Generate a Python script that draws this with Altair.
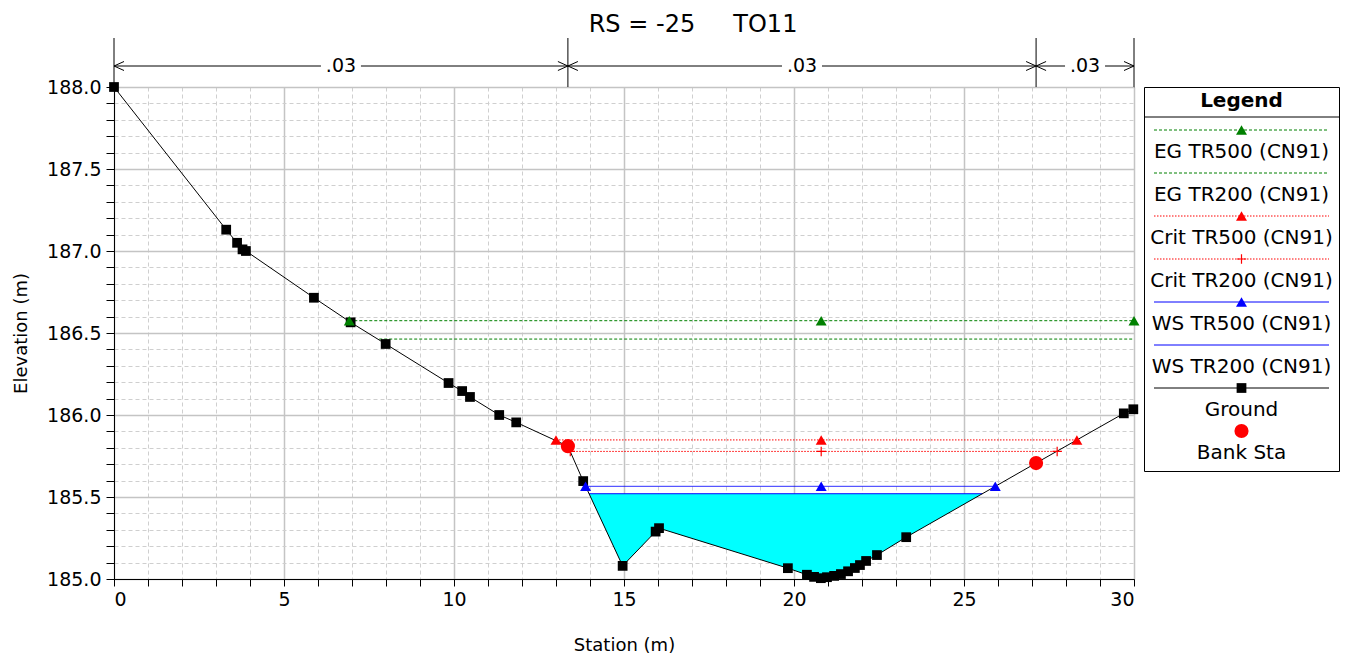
import altair as alt
import pandas as pd

FONT = "DejaVu Sans"

# ---------------- data ----------------
ground_station = [0.0, 3.30, 3.62, 3.78, 3.88, 5.88, 6.96, 7.99, 9.84, 10.24, 10.47,
                  11.33, 11.83, 13.35, 13.80, 14.96, 15.93, 16.03, 19.82, 20.38, 20.59,
                  20.79, 20.97, 21.18, 21.38, 21.59, 21.79, 21.94, 22.12, 22.44, 23.30,
                  27.12, 29.70, 29.98]
ground_elev = [188.0, 187.13, 187.05, 187.01, 187.0, 186.715, 186.565, 186.433, 186.195,
               186.146, 186.11, 186.0, 185.955, 185.81, 185.597, 185.08, 185.289, 185.31,
               185.066, 185.026, 185.013, 185.005, 185.011, 185.019, 185.03, 185.047,
               185.067, 185.085, 185.11, 185.146, 185.255, 185.707, 186.01, 186.035]

bank_station = [13.35, 27.12]
bank_elev = [185.81, 185.707]

# wetted section below WS TR200
fill_station = [13.97, 14.96, 15.93, 16.03, 19.82, 20.38, 20.59, 20.79, 20.97, 21.18,
                21.38, 21.59, 21.79, 21.94, 22.12, 22.44, 23.30, 25.54]
fill_bed = [185.52, 185.08, 185.289, 185.31, 185.066, 185.026, 185.013, 185.005, 185.011,
            185.019, 185.03, 185.047, 185.067, 185.085, 185.11, 185.146, 185.255, 185.52]
ws200_elev = 185.52

series_names = ["EG TR500 (CN91)", "EG TR200 (CN91)", "Crit TR500 (CN91)",
                "Crit TR200 (CN91)", "WS TR500 (CN91)", "WS TR200 (CN91)"]
series_elev = [186.575, 186.463, 185.848, 185.778, 185.565, 185.52]
series_left = [6.92, 7.80, 13.00, 13.42, 13.87, 13.97]
series_right = [30.0, 30.0, 28.32, 27.74, 25.92, 25.54]

marker_series = ["EG TR500 (CN91)"] * 3 + ["Crit TR500 (CN91)"] * 3 + \
                ["Crit TR200 (CN91)"] * 3 + ["WS TR500 (CN91)"] * 3
marker_station = [6.92, 20.8, 30.0, 13.00, 20.8, 28.32, 13.42, 20.8, 27.74, 13.87, 20.8, 25.92]

n_left = [0.0, 13.35, 27.12]
n_right = [13.35, 27.12, 30.0]
n_value = [".03", ".03", ".03"]

legend_labels = series_names + ["Ground", "Bank Sta"]

x_ticks = list(range(0, 31))
y_ticks = [round(185.0 + 0.1 * i, 1) for i in range(31)]

# ---------------- styles ----------------
series_color = ["#008000", "#008000", "#ff0000", "#ff0000", "#0000ff", "#0000ff"]
series_dash = [[3, 2], [3, 2], [1.5, 1.5], [1.5, 1.5], [1, 0], [1, 0]]
series_width = [1, 1, 1, 1, 1.5, 1.5]
color_scale = alt.Scale(domain=series_names + ["Ground", "Bank Sta"],
                        range=series_color + ["#000000", "#ff0000"])
dash_scale = alt.Scale(domain=series_names + ["Ground"], range=series_dash + [[1, 0]])
width_scale = alt.Scale(domain=series_names + ["Ground"], range=series_width + [1])

TRI = 120
SQ = 95
CIRC = 200
PLUS_PATH = "M-1,0L1,0M0,-1L0,1"

# ---------------- tables ----------------
ground_df = pd.DataFrame({"station": ground_station, "elev": ground_elev})
bank_df = pd.DataFrame({"station": bank_station, "elev": bank_elev})
fill_df = pd.DataFrame({"station": fill_station, "elev": fill_bed, "ws": ws200_elev})
rows = []
for name, e, l, r in zip(series_names, series_elev, series_left, series_right):
    rows.append({"series": name, "station": l, "elev": e})
    rows.append({"series": name, "station": r, "elev": e})
lines_df = pd.DataFrame(rows)
elev_of = dict(zip(series_names, series_elev))
markers_df = pd.DataFrame({"series": marker_series, "station": marker_station,
                           "elev": [elev_of[s] for s in marker_series]})
n_df = pd.DataFrame({"left": n_left, "right": n_right, "n": n_value})
bound_df = pd.DataFrame({"station": sorted(set(n_left + n_right))})

xs = alt.Scale(domain=[0, 30], nice=False, zero=False)
ys = alt.Scale(domain=[185, 188], nice=False, zero=False)

major_x = "datum.value % 5 === 0"
major_y = "abs(datum.value * 2 - round(datum.value * 2)) < 0.001"

x_axis = alt.Axis(values=x_ticks, title="Station (m)",
                  labelExpr=f"{major_x} ? datum.label : ''", labelOverlap=False,
                  tickSize=7, labelPadding=4, titlePadding=27,
                  gridColor={"condition": {"test": major_x, "value": "#c4c4c4"}, "value": "#cfcfcf"},
                  gridDash={"condition": {"test": major_x, "value": []}, "value": [4, 3]},
                  gridWidth={"condition": {"test": major_x, "value": 1.5}, "value": 1})
y_axis = alt.Axis(values=y_ticks, title="Elevation (m)",
                  labelExpr=f"{major_y} ? format(datum.value, '.1f') : ''", labelOverlap=False,
                  tickSize=8, labelPadding=5, titlePadding=16,
                  gridColor={"condition": {"test": major_y, "value": "#c4c4c4"}, "value": "#cfcfcf"},
                  gridDash={"condition": {"test": major_y, "value": []}, "value": [4, 3]},
                  gridWidth={"condition": {"test": major_y, "value": 1.5}, "value": 1})

X = alt.X("station:Q", scale=xs, axis=x_axis)
Y = alt.Y("elev:Q", scale=ys, axis=y_axis)

fill = alt.Chart(fill_df).mark_area(color="#00ffff", opacity=1, interpolate="linear").encode(
    x=X, y=Y, y2="ws:Q")

lines = alt.Chart(lines_df).mark_line().encode(
    x=X, y=Y, detail="series:N",
    color=alt.Color("series:N", scale=color_scale, legend=None),
    strokeDash=alt.StrokeDash("series:N", scale=dash_scale, legend=None),
    strokeWidth=alt.StrokeWidth("series:N", scale=width_scale, legend=None),
)

ground_line = alt.Chart(ground_df).mark_line(color="black", strokeWidth=1).encode(x=X, y=Y)
ground_pts = alt.Chart(ground_df).mark_point(shape="square", filled=True, color="black",
                                             size=SQ, opacity=1).encode(x=X, y=Y)

tri = alt.Chart(markers_df).transform_filter("datum.series != 'Crit TR200 (CN91)'").mark_point(
    shape="triangle-up", filled=True, size=TRI, opacity=1).encode(
    x=X, y=Y, color=alt.Color("series:N", scale=color_scale, legend=None))
plus = alt.Chart(markers_df).transform_filter("datum.series == 'Crit TR200 (CN91)'").mark_point(
    shape=PLUS_PATH, filled=False, size=90, strokeWidth=1.2, opacity=1).encode(
    x=X, y=Y, color=alt.Color("series:N", scale=color_scale, legend=None))

bank = alt.Chart(bank_df).mark_point(shape="circle", filled=True, color="#ff0000", size=CIRC,
                                     opacity=1).encode(x=X, y=Y)

# n-value annotation above the plot
AY = -21
GAP = 20
vlines = alt.Chart(bound_df).mark_rule(color="black", strokeWidth=1).encode(
    x=X, y=alt.value(0), y2=alt.value(-49))
n_base = alt.Chart(n_df).transform_calculate(
    mid="(datum.left + datum.right) / 2", station="datum.left")
seg_l = n_base.mark_rule(color="black", strokeWidth=1, x2Offset=-GAP).encode(
    x=alt.X("left:Q", scale=xs, axis=x_axis), x2=alt.X2("mid:Q"), y=alt.value(AY))
seg_r = n_base.mark_rule(color="black", strokeWidth=1, xOffset=GAP).encode(
    x=alt.X("mid:Q", scale=xs, axis=x_axis), x2=alt.X2("right:Q"), y=alt.value(AY))
arr_l = n_base.mark_point(shape="M2,-0.9L0,0L2,0.9", filled=False, size=100, color="black",
                          strokeWidth=1, opacity=1).encode(
    x=alt.X("left:Q", scale=xs, axis=x_axis), y=alt.value(AY))
arr_r = n_base.mark_point(shape="M-2,-0.9L0,0L-2,0.9", filled=False, size=100, color="black",
                          strokeWidth=1, opacity=1).encode(
    x=alt.X("right:Q", scale=xs, axis=x_axis), y=alt.value(AY))
n_text = n_base.mark_text(font=FONT, fontSize=19, color="black", baseline="middle").encode(
    x=alt.X("mid:Q", scale=xs, axis=x_axis), y=alt.value(AY), text="n:N")

main = alt.layer(fill, lines, ground_line, ground_pts, tri, plus, bank,
                 vlines, seg_l, seg_r, arr_l, arr_r, n_text).properties(width=1020, height=492)

# ---------------- legend panel ----------------
ROW = 43
LH = 384
LW = 195
LC = LW / 2
leg_shape = ["triangle-up", None, "triangle-up", "plus", "triangle-up", None, "square", "circle"]
leg_df = pd.DataFrame({"label": legend_labels,
                       "row": [i + 1 for i in range(len(legend_labels))],
                       "shape": leg_shape})
leg_df["text_row"] = leg_df["row"] + 0.5
leg_y = alt.Scale(domain=[0, LH / ROW], range=[0, LH], nice=False, zero=False)
LY = alt.Y("row:Q", scale=leg_y, axis=None)

leg_lines = alt.Chart(leg_df).transform_filter("datum.label != 'Bank Sta'").mark_rule().encode(
    x=alt.value(10), x2=alt.value(LW - 10), y=LY,
    color=alt.Color("label:N", scale=color_scale, legend=None),
    strokeDash=alt.StrokeDash("label:N", scale=dash_scale, legend=None),
    strokeWidth=alt.StrokeWidth("label:N", scale=width_scale, legend=None),
)
leg_tri = alt.Chart(leg_df).transform_filter("datum.shape == 'triangle-up'").mark_point(
    shape="triangle-up", filled=True, size=TRI, opacity=1).encode(
    x=alt.value(LC), y=LY, color=alt.Color("label:N", scale=color_scale, legend=None))
leg_plus = alt.Chart(leg_df).transform_filter("datum.shape == 'plus'").mark_point(
    shape=PLUS_PATH, filled=False, size=90, strokeWidth=1.2, opacity=1).encode(
    x=alt.value(LC), y=LY, color=alt.Color("label:N", scale=color_scale, legend=None))
leg_sq = alt.Chart(leg_df).transform_filter("datum.shape == 'square'").mark_point(
    shape="square", filled=True, size=SQ, opacity=1, color="black").encode(
    x=alt.value(LC), y=LY)
leg_circ = alt.Chart(leg_df).transform_filter("datum.shape == 'circle'").mark_point(
    shape="circle", filled=True, size=CIRC, opacity=1, color="#ff0000").encode(
    x=alt.value(LC), y=LY)
leg_text = alt.Chart(leg_df).mark_text(font=FONT, fontSize=20, color="black",
                                       baseline="middle").encode(
    x=alt.value(LC), y=alt.Y("text_row:Q", scale=leg_y, axis=None), text="label:N")
leg_head = alt.Chart(pd.DataFrame({"t": ["Legend"]})).mark_text(
    font=FONT, fontSize=20, fontWeight="bold", color="black", baseline="middle").encode(
    x=alt.value(LC), y=alt.value(14), text="t:N")
leg_sep = alt.Chart(pd.DataFrame({"t": ["Legend"]})).mark_rule(color="black", strokeWidth=1).encode(
    x=alt.value(0), x2=alt.value(LW), y=alt.value(30))

legend = alt.layer(leg_lines, leg_tri, leg_plus, leg_sq, leg_circ, leg_text, leg_head,
                   leg_sep).properties(width=LW, height=LH)

chart = alt.hconcat(main, legend, spacing=10, bounds="flush").properties(
    title=alt.TitleParams("RS = -25\u00a0\u00a0\u00a0\u00a0\u00a0TO11", font=FONT, fontSize=24,
                          fontWeight="normal", anchor="middle", offset=0, dx=17),
    padding={"left": 4, "top": 5, "right": 0, "bottom": 0},
).configure_view(stroke="black", strokeWidth=1).configure_axis(
    labelFont=FONT, labelFontSize=19, labelColor="black",
    titleFont=FONT, titleFontSize=18, titleFontWeight="normal", titleColor="black",
    domainColor="black", tickColor="black", grid=True,
)

chart.save("out.html", embed_options={"renderer": "svg", "actions": False})
